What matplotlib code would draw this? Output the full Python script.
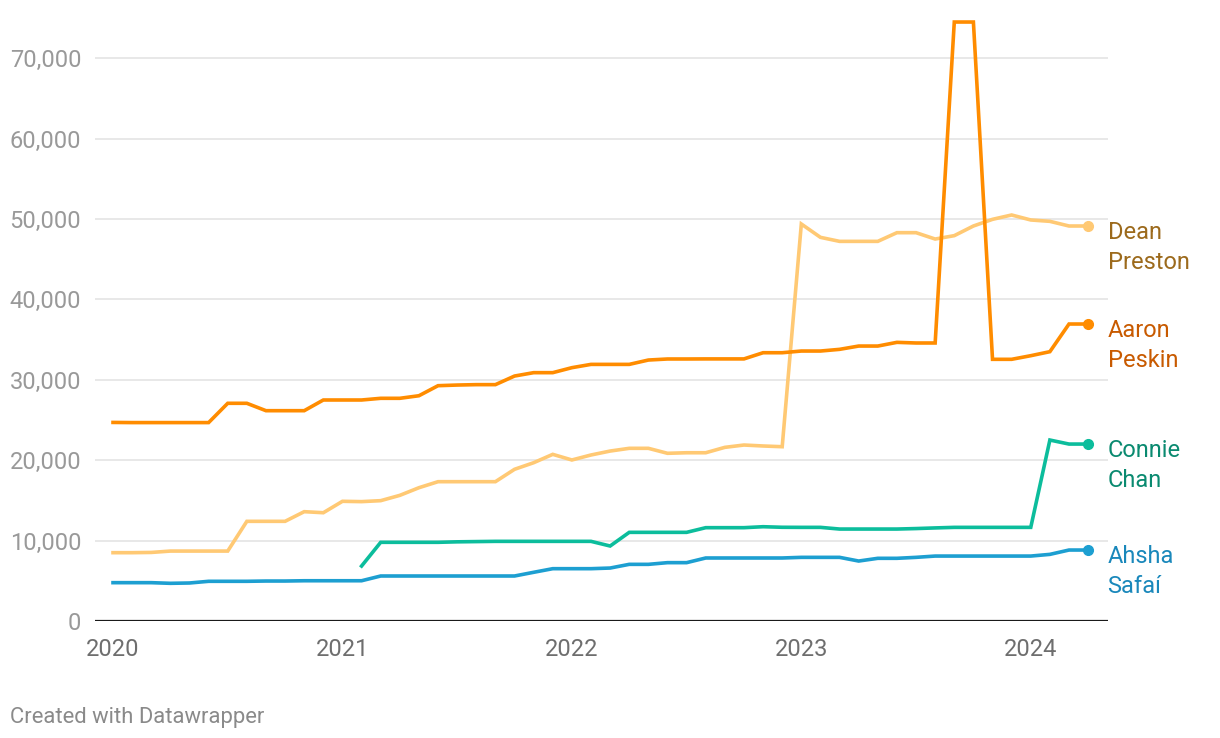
import numpy as np
import matplotlib
import matplotlib.pyplot as plt

matplotlib.use('Agg')
plt.rcParams['font.family'] = ['Roboto', 'DejaVu Sans']

# monthly values, Jan 2020 (index 0) .. Apr 2024 (index 51)
months = np.arange(52)

preston = [8500, 8500, 8530, 8700, 8700, 8700, 8700, 12400, 12400, 12400,
           13600, 13470, 14890, 14850, 14970, 15630, 16580, 17330, 17330, 17330,
           17330, 18870, 19690, 20730, 20030, 20650, 21140, 21480, 21480, 20860,
           20930, 20930, 21600, 21890, 21770, 21680, 49380, 47720, 47220, 47220,
           47220, 48300, 48300, 47510, 47930, 49130, 49960, 50500, 49880, 49710,
           49130, 49130]

peskin = [24700, 24680, 24680, 24680, 24680, 24680, 27080, 27080, 26160, 26160,
          26160, 27490, 27490, 27490, 27700, 27700, 28020, 29270, 29350, 29400,
          29400, 30470, 30890, 30890, 31510, 31920, 31920, 31920, 32460, 32590,
          32590, 32600, 32600, 32600, 33370, 33370, 33580, 33580, 33790, 34200,
          34200, 34660, 34580, 34580, 74500, 74500, 32550, 32550, 33000, 33500,
          36940, 36940]

chan_start = 13
chan = [6840, 9790, 9790, 9790, 9790, 9850, 9880, 9910, 9910, 9910,
        9910, 9910, 9910, 9330, 11030, 11030, 11030, 11030, 11610, 11610,
        11610, 11730, 11660, 11650, 11650, 11440, 11440, 11440, 11440, 11500,
        11580, 11650, 11650, 11650, 11650, 11650, 22510, 22010, 22010]

safai = [4770, 4770, 4770, 4690, 4730, 4940, 4940, 4940, 4975, 4975,
         5010, 5010, 5010, 5010, 5600, 5600, 5600, 5600, 5600, 5600,
         5600, 5600, 6060, 6510, 6510, 6510, 6590, 7050, 7050, 7260,
         7260, 7840, 7840, 7840, 7840, 7840, 7920, 7920, 7920, 7460,
         7800, 7800, 7920, 8080, 8080, 8080, 8080, 8080, 8080, 8290,
         8830, 8830]

names = ["Dean\nPreston", "Aaron\nPeskin", "Connie\nChan", "Ahsha\nSafaí"]
line_colors = ["#ffc974", "#ff8c00", "#0cbd9c", "#1d9fd1"]
label_colors = ["#9c6a1c", "#c85a00", "#0a8a70", "#1a88bb"]

year_ticks = [0, 12, 24, 36, 48]
year_labels = ["2020", "2021", "2022", "2023", "2024"]
y_ticks = [0, 10000, 20000, 30000, 40000, 50000, 60000, 70000]

fig = plt.figure(figsize=(12.2, 7.38), dpi=100)
ax = fig.add_axes([0.0779, 0.1585, 0.8303, 0.828])

series = [
	(months, preston),
	(months, peskin),
	(months[chan_start:], chan),
	(months, safai),
]
zorders = [3, 4, 3, 3]

for (xs, ys), name, lc, tc, z in zip(series, names, line_colors, label_colors, zorders):
	ax.plot(xs, ys, color=lc, lw=2.6, solid_joinstyle='miter', zorder=z)
	ax.plot(xs[-1], ys[-1], 'o', color=lc, ms=7, zorder=z + 1)
	ax.annotate(name, xy=(xs[-1], ys[-1]), xytext=(14, 3.5),
		textcoords='offset points', va='top', ha='left',
		fontsize=17, color=tc, linespacing=1.37, annotation_clip=False)

ax.set_xlim(-0.94, 52.04)
ax.set_ylim(0, 76000)
ax.set_yticks(y_ticks)
ax.set_yticklabels(["0" if v == 0 else "{:,}".format(v) for v in y_ticks])
ax.set_xticks(year_ticks, year_labels)

ax.grid(axis='y', color='#e1e1e1', lw=1.1, zorder=0)
ax.axhline(0, color='#1a1a1a', lw=1.6, zorder=5)
for s in ax.spines.values():
	s.set_visible(False)
ax.tick_params(axis='y', length=0, pad=10, labelsize=17, labelcolor='#999999')
ax.tick_params(axis='x', length=0, pad=12, labelsize=17, labelcolor='#6e6e6e')

fig.text(0.008, 0.021, "Created with Datawrapper", fontsize=15.8, color='#8a8a8a')

fig.savefig("out.png", dpi=100)
